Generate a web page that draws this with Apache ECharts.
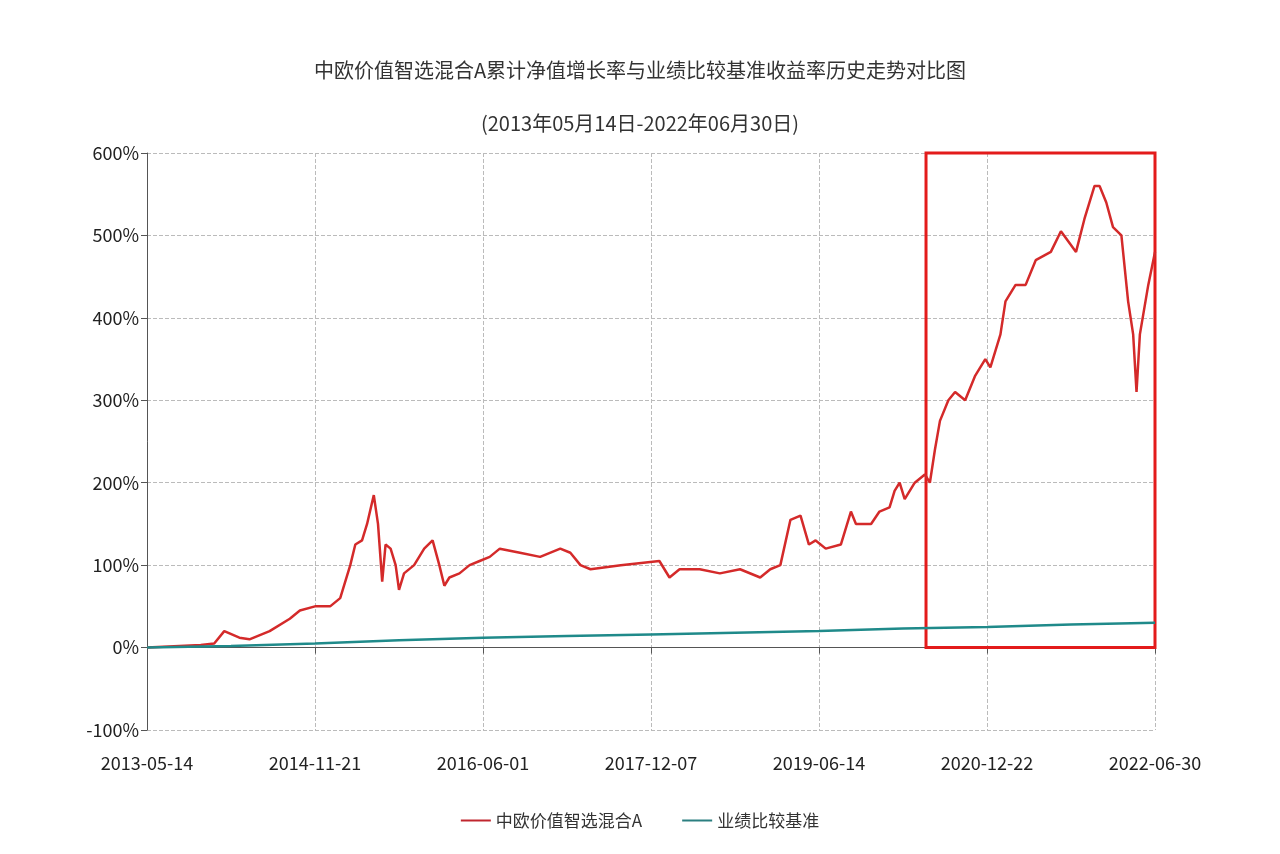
<!DOCTYPE html>
<html style="height: 100%">
<head>
  <meta charset="utf-8">
</head>
<body style="height: 100%; margin: 0; background: #fff">
  <div id="container" style="width: 1280px; height: 854px"></div>
  <script src="https://cdn.jsdelivr.net/npm/echarts@6/dist/echarts.min.js"></script>
  <script type="text/javascript">
    // x positions in label units (0 = 2013-05-14, 6 = 2022-06-30)
    let xTickLabels = ['2013-05-14', '2014-11-21', '2016-06-01', '2017-12-07', '2019-06-14', '2020-12-22', '2022-06-30'];

    let fundX = [0, 0.32, 0.40, 0.46, 0.55, 0.61, 0.73, 0.85, 0.91, 1.0, 1.09, 1.15, 1.21, 1.24, 1.28, 1.31, 1.35, 1.375, 1.40, 1.42,
      1.45, 1.48, 1.50, 1.53, 1.59, 1.65, 1.70, 1.74, 1.77, 1.80, 1.86, 1.92, 1.98, 2.04, 2.10, 2.22, 2.34, 2.46, 2.52, 2.58,
      2.64, 2.82, 3.05, 3.11, 3.17, 3.29, 3.41, 3.53, 3.65, 3.71, 3.77, 3.83, 3.89, 3.94, 3.98, 4.04, 4.13, 4.19, 4.22, 4.31,
      4.36, 4.42, 4.45, 4.48, 4.51, 4.57, 4.63, 4.66, 4.69, 4.72, 4.77, 4.81, 4.87, 4.93, 4.99, 5.02, 5.08, 5.11, 5.17, 5.23,
      5.29, 5.38, 5.44, 5.53, 5.58, 5.64, 5.67, 5.71, 5.75, 5.80, 5.84, 5.87, 5.89, 5.91, 5.96, 6.0];
    let fundY = [0, 3, 5, 20, 12, 10, 20, 35, 45, 50, 50, 60, 100, 125, 130, 150, 185, 150, 80, 125,
      120, 100, 70, 90, 100, 120, 130, 100, 75, 85, 90, 100, 105, 110, 120, 115, 110, 120, 115, 100,
      95, 100, 105, 85, 95, 95, 90, 95, 85, 95, 100, 155, 160, 125, 130, 120, 125, 165, 150, 150,
      165, 170, 190, 200, 180, 200, 210, 200, 240, 275, 300, 310, 300, 330, 350, 340, 380, 420, 440, 440,
      470, 480, 505, 480, 520, 560, 560, 540, 510, 500, 420, 380, 310, 380, 440, 480];

    let benchX = [0, 0.5, 1, 1.5, 2, 2.5, 3, 3.5, 4, 4.5, 5, 5.5, 6];
    let benchY = [0, 2, 5, 9, 12, 14, 16, 18, 20, 23, 25, 28, 30];

    let chart = echarts.init(document.getElementById('container'));
    let font = '"Noto Sans CJK SC", "Noto Sans", sans-serif';

    let option = {
      animation: false,
      title: [{
        text: '中欧价值智选混合A累计净值增长率与业绩比较基准收益率历史走势对比图',
        left: 'center', top: 55,
        textStyle: { fontSize: 20, fontWeight: 'normal', color: '#333', fontFamily: font }
      }, {
        text: '(2013年05月14日-2022年06月30日)',
        left: 'center', top: 108,
        textStyle: { fontSize: 20, fontWeight: 'normal', color: '#333', fontFamily: font }
      }],
      grid: { left: 147, right: 125, top: 153, bottom: 124 },
      legend: {
        bottom: 20, left: 'center', itemWidth: 30, itemHeight: 2, itemGap: 40,
        icon: 'rect',
        textStyle: { fontSize: 17, color: '#333', fontFamily: font },
        data: ['中欧价值智选混合A', '业绩比较基准']
      },
      xAxis: {
        type: 'value', min: 0, max: 6, interval: 1,
        axisLine: { lineStyle: { color: '#555' } },
        axisTick: { show: true, length: 6, lineStyle: { color: '#555' } },
        splitLine: { show: true, lineStyle: { type: 'dashed', color: '#bbb' } },
        axisLabel: {
          fontSize: 18, color: '#222', margin: 24, fontFamily: font,
          formatter: function (v) { return xTickLabels[Math.round(v)]; }
        }
      },
      yAxis: {
        type: 'value', min: -100, max: 600, interval: 100,
        axisLine: { show: true, lineStyle: { color: '#555' } },
        axisTick: { show: true, length: 6, lineStyle: { color: '#555' } },
        splitLine: { show: true, lineStyle: { type: 'dashed', color: '#bbb' } },
        axisLabel: { fontSize: 18, color: '#222', fontFamily: font, formatter: '{value}%' }
      },
      series: [{
        name: '中欧价值智选混合A', type: 'line', showSymbol: false,
        lineStyle: { color: '#d42a2a', width: 2.5 }, itemStyle: { color: '#c0262e' },
        data: fundX.map(function (x, i) { return [x, fundY[i]]; }),
        markArea: {
          silent: true,
          itemStyle: { color: 'rgba(0,0,0,0)', borderColor: '#e31b1b', borderWidth: 3 },
          data: [[{ coord: [4.637, 600] }, { coord: [6, 0] }]]
        }
      }, {
        name: '业绩比较基准', type: 'line', showSymbol: false,
        lineStyle: { color: '#1f8a8a', width: 2.5 }, itemStyle: { color: '#2b7f80' },
        data: benchX.map(function (x, i) { return [x, benchY[i]]; })
      }]
    };
    chart.setOption(option);
  </script>
</body>
</html>
